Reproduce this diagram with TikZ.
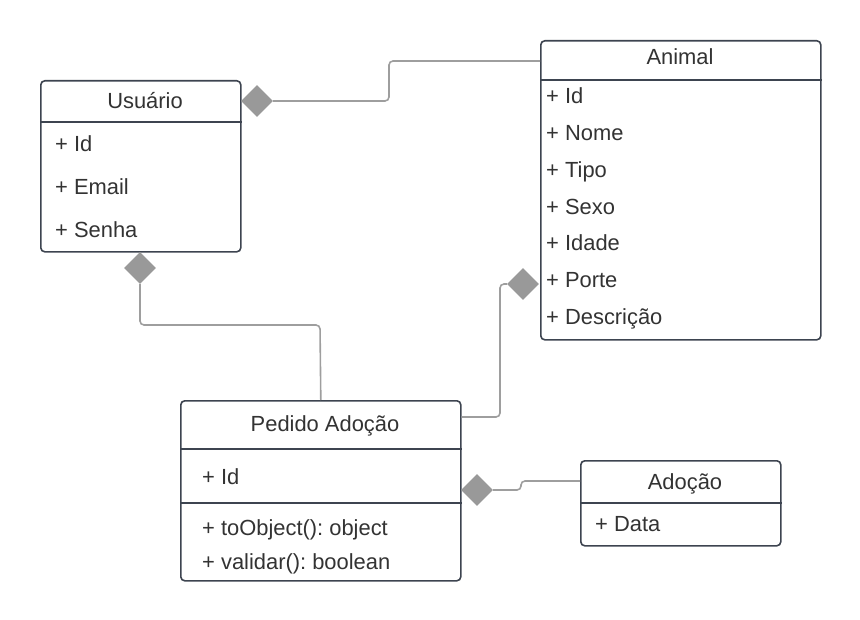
\documentclass[tikz,border=0pt]{standalone}
\usepackage{fontspec}
\setmainfont{Liberation Sans}
\usetikzlibrary{shapes.geometric}
\definecolor{boxcol}{HTML}{3D4450}
\definecolor{txtcol}{HTML}{333333}
\definecolor{linkcol}{HTML}{9E9E9E}
\definecolor{diacol}{HTML}{999999}
\frenchspacing
\tikzset{
  umlbox/.style={draw=boxcol,line width=1.6bp,rounded corners=4bp,fill=white,anchor=north west,inner sep=0pt},
  sepline/.style={draw=boxcol,line width=1.6bp},
  title/.style={anchor=base,yshift=-7.8bp,inner sep=0pt,text=txtcol},
  attr/.style={anchor=base west,yshift=-7.8bp,inner sep=0pt,text=txtcol},
  comp/.style={diamond,fill=diacol,minimum width=32bp,minimum height=32bp,inner sep=0pt},
  conn/.style={draw=linkcol,line width=1.6bp,rounded corners=4bp},
}
\begin{document}
\begin{tikzpicture}[x=1bp,y=-1bp,font=\fontsize{21.9bp}{26bp}\selectfont]
\useasboundingbox (0,0) rectangle (860,620);
% boxes
\node[umlbox,minimum width=200bp,minimum height=171bp] (usr) at (40,80) {};
\node[umlbox,minimum width=280bp,minimum height=299bp] (ani) at (540,40) {};
\node[umlbox,minimum width=280bp,minimum height=180bp] (ped) at (180,400) {};
\node[umlbox,minimum width=200bp,minimum height=85bp] (ado) at (580,460) {};
\draw[sepline] (usr.west |- 0,122) -- (usr.east |- 0,122);
\draw[sepline] (ani.west |- 0,80) -- (ani.east |- 0,80);
\draw[sepline] (ped.west |- 0,449) -- (ped.east |- 0,449);
\draw[sepline] (ped.west |- 0,503) -- (ped.east |- 0,503);
\draw[sepline] (ado.west |- 0,503) -- (ado.east |- 0,503);

% Usuario
\node[title] (usrT) at (145,101) {Usuário};
\node[attr] (usrA) at (55,144) {+ Id};
\node[attr] (usrB) at (55,187) {+ Email};
\node[attr] (usrC) at (55,230) {+ Senha};

% Animal
\node[title] (aniT) at (680,57) {Animal};
\foreach \y/\t [count=\i] in {96/Id,133/Nome,170/Tipo,207/Sexo,243/Idade,280/Porte,317/Descrição}
  \node[attr] (ani\i) at (546,\y) {+ \t};

% Pedido
\node[title] (pedT) at (325,424) {Pedido Adoção};
\node[attr] (pedA) at (202,477) {+ Id};
\node[attr] (pedB) at (202,528) {+ toObject(): object};
\node[attr] (pedC) at (202,562) {+ validar(): boolean};

% Adocao
\node[title] (adoT) at (685,482) {Adoção};
\node[attr] (adoA) at (595,524) {+ Data};

% compositions
\node[comp] (dUA) at (257,101) {};
\node[comp] (dUP) at (140,268) {};
\node[comp] (dPA) at (523,284) {};
\node[comp] (dPD) at (477,490) {};

\draw[conn] (dUA.east) -- (389,101) -- (389,61) -- (ani.west |- 0,61);
\draw[conn] (dUP.south) -- (140,325) -- (320,325) -- (ped.north);
\draw[conn] (ped.east |- 0,417) -- (500,417) -- (500,284) -- (dPA.west);
\draw[conn] (dPD.east) -- (521,490) -- (521,481) -- (ado.west |- 0,481);

\end{tikzpicture}
\end{document}
